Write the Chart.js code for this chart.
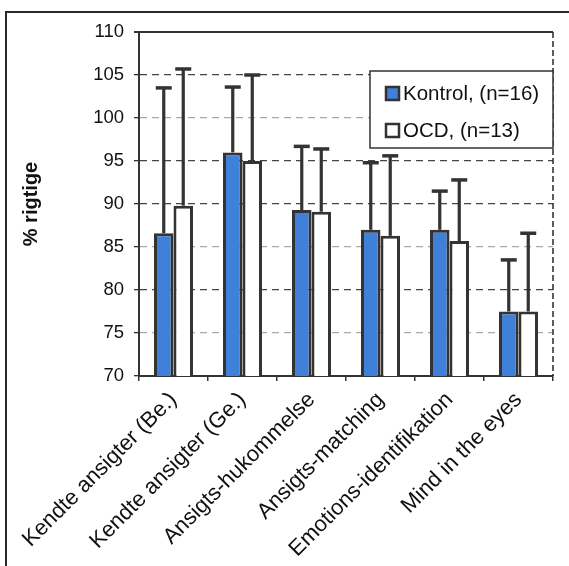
<!DOCTYPE html>
<html>
<head>
<meta charset="utf-8">
<script src="https://cdn.jsdelivr.net/npm/chart.js@4/dist/chart.umd.min.js"></script>
<style>
body { margin: 0; background: #fff; }
#wrap { width: 569px; height: 566px; position: relative; }
</style>
</head>
<body>
<div id="wrap"><canvas id="chart"></canvas></div>
<script>
// data
const categories = ['Kendte ansigter (Be.)', 'Kendte ansigter (Ge.)', 'Ansigts-hukommelse',
	'Ansigts-matching', 'Emotions-identifikation', 'Mind in the eyes'];
const kontrol = [86.6, 96.0, 89.3, 87.0, 87.0, 77.5];
const kontrolTop = [103.5, 103.6, 96.7, 94.8, 91.5, 83.5];
const ocd = [89.8, 95.0, 89.1, 86.3, 85.7, 77.5];
const ocdTop = [105.7, 105.0, 96.4, 95.6, 92.8, 86.6];
const yTicks = [70, 75, 80, 85, 90, 95, 100, 105, 110];

const darkLines = [80, 90, 95, 105];
const FONT = '"Liberation Sans", Arial, sans-serif';

// error bars (upper only)
const errorBars = {
	id: 'errorBars',
	afterDatasetsDraw(chart) {
		const ctx = chart.ctx;
		const y = chart.scales.y;
		chart.data.datasets.forEach(function (ds, i) {
			const meta = chart.getDatasetMeta(i);
			meta.data.forEach(function (bar, j) {
				const top = y.getPixelForValue(ds.errTop[j]);
				ctx.save();
				ctx.strokeStyle = '#333';
				ctx.lineWidth = 3.2;
				ctx.beginPath();
				ctx.moveTo(bar.x, bar.y);
				ctx.lineTo(bar.x, top);
				ctx.stroke();
				ctx.lineWidth = 3.5;
				ctx.beginPath();
				ctx.moveTo(bar.x - 8, top);
				ctx.lineTo(bar.x + 8, top);
				ctx.stroke();
				ctx.restore();
			});
		});
	}
};

// frame, right border and legend box
const decor = {
	id: 'decor',
	beforeDraw(chart) {
		const ctx = chart.ctx;
		ctx.save();
		ctx.fillStyle = '#fff';
		ctx.fillRect(0, 0, chart.width, chart.height);
		ctx.restore();
	},
	afterDraw(chart) {
		const ctx = chart.ctx;
		const a = chart.chartArea;
		ctx.save();
		ctx.strokeStyle = '#2a2a2a';
		ctx.lineWidth = 2;
		ctx.beginPath();
		ctx.moveTo(6, 566);
		ctx.lineTo(6, 12);
		ctx.lineTo(569, 12);
		ctx.stroke();

		ctx.lineWidth = 1.5;
		ctx.setLineDash([6, 3]);
		ctx.beginPath();
		ctx.moveTo(a.right, a.top);
		ctx.lineTo(a.right, a.bottom);
		ctx.stroke();
		ctx.setLineDash([]);

		// legend
		const lx = 370, ly = 71, lw = a.right - 370, lh = 77;
		ctx.fillStyle = '#fff';
		ctx.fillRect(lx, ly, lw, lh);
		ctx.strokeStyle = '#333';
		ctx.lineWidth = 1.5;
		ctx.strokeRect(lx, ly, lw, lh);
		ctx.font = '20.5px ' + FONT;
		ctx.textBaseline = 'middle';
		chart.data.datasets.forEach(function (ds, i) {
			const cy = ly + 22 + i * 37;
			ctx.fillStyle = ds.backgroundColor;
			ctx.fillRect(386, cy - 6, 13, 13);
			ctx.strokeStyle = '#333';
			ctx.lineWidth = 2.5;
			ctx.strokeRect(386, cy - 6, 13, 13);
			ctx.fillStyle = '#111';
			ctx.fillText(ds.label, 403, cy + 1);
		});
		ctx.restore();
	}
};

new Chart(document.getElementById('chart'), {
	type: 'bar',
	data: {
		labels: categories,
		datasets: [{
			label: 'Kontrol, (n=16)',
			data: kontrol,
			errTop: kontrolTop,
			backgroundColor: '#3f80d8',
			borderColor: '#333',
			borderWidth: 3,
			borderSkipped: false,
			categoryPercentage: 0.565,
			barPercentage: 1
		}, {
			label: 'OCD, (n=13)',
			data: ocd,
			errTop: ocdTop,
			backgroundColor: '#ffffff',
			borderColor: '#333',
			borderWidth: 3,
			borderSkipped: false,
			categoryPercentage: 0.565,
			barPercentage: 1
		}]
	},
	options: {
		responsive: true,
		maintainAspectRatio: false,
		animation: false,
		layout: { padding: { top: 32, right: 16, left: 0, bottom: 0 } },
		plugins: {
			legend: { display: false },
			tooltip: { enabled: false }
		},
		scales: {
			x: {
				grid: { drawOnChartArea: false, drawTicks: true, tickLength: 5, color: '#333', lineWidth: 1.5 },
				border: { color: '#333', width: 2 },
				ticks: {
					maxRotation: 45, minRotation: 45, padding: 6,
					color: '#111',
					font: { family: FONT, size: 22 }
				},
				afterFit: function (s) { s.height = 190; s.paddingLeft = 0; s.paddingRight = 0; }
			},
			y: {
				min: 70, max: 110,
				afterBuildTicks: function (s) { s.ticks = yTicks.map(function (v) { return { value: v }; }); },
				grid: {
					tickLength: 5,
					lineWidth: function (c) { return c.tick && c.tick.value === 110 ? 2 : 1.3; },
					color: function (c) {
						if (!c.tick) return '#333';
						if (c.tick.value === 110) return '#333';
						return darkLines.indexOf(c.tick.value) >= 0 ? '#444' : '#aaa';
					},
					tickColor: '#333'
				},
				border: {
					color: '#333', width: 2,
					dash: function (c) { return c.tick && c.tick.value === 110 ? [] : [7, 5]; }
				},
				ticks: {
					padding: 10,
					color: '#111',
					font: { family: FONT, size: 18.5 }
				},
				title: {
					display: true,
					text: '% rigtige',
					color: '#111',
					padding: { top: 19, bottom: 0 },
					font: { family: FONT, size: 20, weight: 'bold' }
				},
				afterFit: function (s) { s.width = 139; }
			}
		}
	},
	plugins: [errorBars, decor]
});
</script>
</body>
</html>
